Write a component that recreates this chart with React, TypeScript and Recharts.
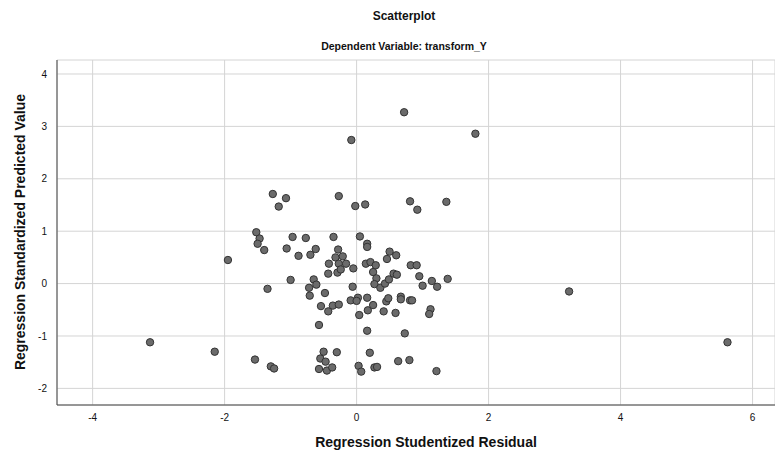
import { ScatterChart, Scatter, XAxis, YAxis, CartesianGrid } from 'recharts';

// Regression Studentized Residual (x) vs Regression Standardized Predicted Value (y)
const residuals = [
    0.72, 1.80, -0.08, -3.13, -2.15, -1.95, 3.22, 5.62, 0.81, 0.92,
    1.36, -1.27, -1.18, -1.07, -0.27, -0.02, 0.13, -1.52, -1.47, -1.50,
    -1.40, -0.97, -0.77, -0.35, 0.05, 0.16, 0.16, -1.06, -0.88, -0.70,
    -0.62, -0.28, -0.32, -0.21, -0.42, -0.27, -0.16, -0.43, -0.29, -0.24,
    -0.05, 0.14, 0.21, 0.29, 0.25, 0.30, 0.27, 0.36, 0.43, 0.49,
    0.56, 0.61, 0.50, 0.46, 0.60, -0.06, 0.82, 0.91, 0.95, 1.14,
    1.38, 1.00, 1.22, -1.00, -0.65, -0.61, -0.72, -1.35, -0.71, -0.48,
    -0.54, -0.43, -0.36, -0.27, -0.09, 0.02, 0.00, 0.16, 0.04, 0.17,
    0.25, 0.41, 0.45, 0.48, 0.59, 0.67, 0.67, 0.81, 0.84, 1.12,
    1.10, -0.57, 0.16, 0.73, -1.54, -1.30, -1.25, -0.50, -0.30, -0.55,
    -0.47, -0.57, -0.45, -0.37, 0.03, 0.07, 0.20, 0.27, 0.31, 0.63,
    0.80, 1.21,
];

const predicted = [
    3.27, 2.86, 2.74, -1.12, -1.30, 0.45, -0.15, -1.12, 1.57, 1.41,
    1.56, 1.71, 1.47, 1.63, 1.67, 1.48, 1.51, 0.98, 0.86, 0.76,
    0.64, 0.89, 0.87, 0.89, 0.90, 0.76, 0.70, 0.67, 0.53, 0.55,
    0.66, 0.65, 0.50, 0.52, 0.38, 0.38, 0.38, 0.19, 0.21, 0.27,
    0.29, 0.38, 0.41, 0.35, 0.22, 0.10, -0.01, -0.08, 0.00, 0.08,
    0.19, 0.17, 0.61, 0.47, 0.54, -0.06, 0.35, 0.35, 0.14, 0.05,
    0.09, -0.04, -0.06, 0.07, 0.08, -0.02, -0.08, -0.10, -0.23, -0.18,
    -0.43, -0.53, -0.42, -0.40, -0.32, -0.27, -0.33, -0.27, -0.60, -0.51,
    -0.41, -0.53, -0.34, -0.28, -0.56, -0.25, -0.30, -0.32, -0.32, -0.49,
    -0.58, -0.79, -0.90, -0.95, -1.45, -1.58, -1.62, -1.30, -1.31, -1.43,
    -1.49, -1.63, -1.66, -1.60, -1.57, -1.68, -1.32, -1.60, -1.59, -1.48,
    -1.46, -1.67,
];

const xTicks = [-4, -2, 0, 2, 4, 6];
const yTicks = [-2, -1, 0, 1, 2, 3, 4];

const points = residuals.map((x, i) => ({ x, y: predicted[i] }));

const FONT = '"Liberation Sans", Arial, sans-serif';

const Dot = (props: any) => {
    const { cx, cy } = props;
    if (cx == null || cy == null) return null;
    return <circle cx={cx} cy={cy} r={3.7} fill="#6b6b6b" stroke="#333333" strokeWidth={1} />;
};

export default function App() {
    const tickStyle = { fontSize: 10, fill: '#111', fontFamily: FONT };

    return (
        <div style={{ position: 'absolute', left: 0, top: 0, width: 775, height: 455, background: '#fff', fontFamily: FONT }}>
            <div style={{ position: 'absolute', top: 9, left: 0, width: 808, textAlign: 'center', fontSize: 12, fontWeight: 'bold', color: '#111' }}>
                Scatterplot
            </div>
            <div style={{ position: 'absolute', top: 40, left: 0, width: 808, textAlign: 'center', fontSize: 10.5, fontWeight: 'bold', color: '#111' }}>
                Dependent Variable: transform_Y
            </div>

            <ScatterChart width={775} height={455} margin={{ top: 60, right: 0, bottom: 0, left: 0 }}>
                <CartesianGrid stroke="#d4d4d4" strokeWidth={1} />
                <XAxis
                    type="number"
                    dataKey="x"
                    domain={[-4.54, 6.34]}
                    ticks={xTicks}
                    allowDataOverflow
                    height={50}
                    tickLine={false}
                    tickMargin={3}
                    tick={tickStyle}
                    stroke="#444"
                />
                <YAxis
                    type="number"
                    dataKey="y"
                    domain={[-2.317, 4.267]}
                    ticks={yTicks}
                    allowDataOverflow
                    width={57}
                    tickLine={false}
                    tickMargin={4}
                    tick={tickStyle}
                    stroke="#444"
                />
                <Scatter data={points} shape={<Dot />} isAnimationActive={false} />
            </ScatterChart>

            <div style={{ position: 'absolute', top: 434, left: 0, width: 852, textAlign: 'center', fontSize: 14, fontWeight: 'bold', color: '#111' }}>
                Regression Studentized Residual
            </div>
            <div
                style={{
                    position: 'absolute',
                    left: 20,
                    top: 232,
                    transform: 'translate(-50%, -50%) rotate(-90deg)',
                    whiteSpace: 'nowrap',
                    fontSize: 14,
                    fontWeight: 'bold',
                    color: '#111',
                }}
            >
                Regression Standardized Predicted Value
            </div>
        </div>
    );
}
